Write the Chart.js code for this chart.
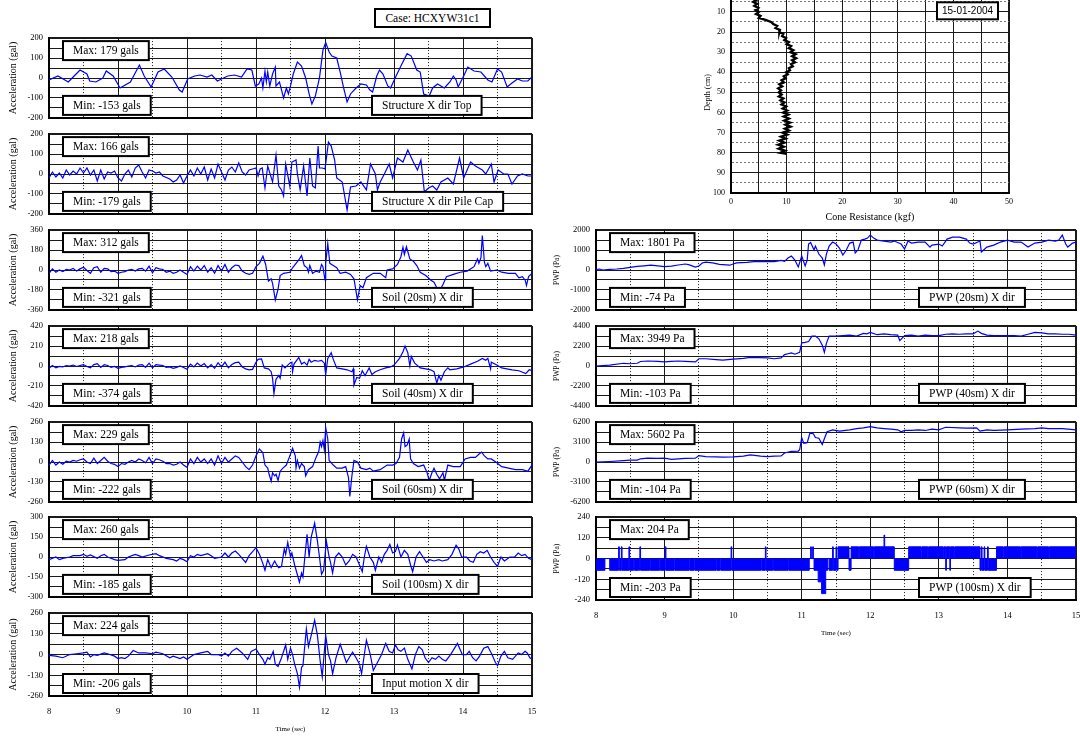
<!DOCTYPE html>
<html lang="en">
<head>
<meta charset="UTF-8">
<title>Case HCXYW31c1</title>
<script src="https://cdn.jsdelivr.net/npm/chart.js"></script>
<style>
  body { margin: 0; width: 1080px; height: 736px; overflow: hidden; background: #fff; position: relative; font-family: "Liberation Serif", serif; }
  canvas { position: absolute; }
  #case { position: absolute; left: 374px; top: 8px; width: 117px; height: 20px; box-sizing: border-box; border: 2px solid #000; text-align: center; font-size: 11.5px; line-height: 16px; background: #fff; }
</style>
</head>
<body>
<div id="case">Case: HCXYW31c1</div>
<script>
// ---- data: [time (s), value] ----
const accTop = [[8.00,-10],[8.13,10],[8.28,-20],[8.35,5],[8.45,40],[8.55,20],[8.59,-15],[8.68,-20],[8.78,0],[8.83,35],[8.93,10],[9.03,-50],[9.18,-20],[9.31,65],[9.38,10],[9.48,-45],[9.58,30],[9.67,45],[9.78,5],[9.89,-60],[9.93,-70],[10.01,-5],[10.11,10],[10.19,15],[10.29,5],[10.36,15],[10.44,-15],[10.59,10],[10.69,15],[10.79,5],[10.87,45],[10.94,40],[10.99,-40],[11.04,-30],[11.08,0],[11.10,-50],[11.13,35],[11.15,-20],[11.17,30],[11.20,-40],[11.24,20],[11.28,55],[11.29,-40],[11.34,-20],[11.40,-100],[11.44,-50],[11.47,-80],[11.50,-40],[11.54,20],[11.60,80],[11.66,60],[11.72,0],[11.77,-80],[11.81,-130],[11.86,-90],[11.92,0],[11.97,140],[12.01,178],[12.06,130],[12.10,110],[12.17,100],[12.22,30],[12.27,-50],[12.32,-120],[12.37,-80],[12.45,-50],[12.52,-30],[12.60,-35],[12.65,-60],[12.69,-70],[12.75,10],[12.79,40],[12.84,20],[12.91,-40],[12.95,-50],[13.03,10],[13.10,60],[13.19,122],[13.25,110],[13.33,40],[13.38,30],[13.43,-80],[13.51,-90],[13.56,-50],[13.63,-30],[13.73,-50],[13.81,-20],[13.86,10],[13.90,-10],[13.93,-45],[14.01,10],[14.07,55],[14.16,35],[14.26,30],[14.36,-10],[14.42,-20],[14.50,45],[14.56,30],[14.64,-45],[14.71,-25],[14.79,-5],[14.86,-15],[14.94,-15],[15.00,5]];

const accPileCap = [[8.00,-20],[8.05,10],[8.10,-15],[8.15,5],[8.20,-20],[8.25,20],[8.30,-5],[8.35,15],[8.40,0],[8.45,30],[8.50,5],[8.55,30],[8.60,-5],[8.65,20],[8.70,-35],[8.75,20],[8.80,-25],[8.85,10],[8.90,5],[8.95,15],[9.00,-20],[9.05,-35],[9.10,0],[9.15,20],[9.20,-15],[9.25,30],[9.30,45],[9.35,10],[9.40,-20],[9.45,20],[9.50,15],[9.55,5],[9.60,10],[9.65,-10],[9.75,-25],[9.80,-40],[9.85,-30],[9.90,-5],[9.95,-45],[10.00,-10],[10.05,20],[10.10,-10],[10.15,30],[10.20,0],[10.25,35],[10.30,-30],[10.35,25],[10.40,-20],[10.45,50],[10.50,10],[10.55,-30],[10.60,20],[10.65,35],[10.70,10],[10.75,55],[10.80,10],[10.85,-5],[10.90,20],[10.95,25],[11.00,30],[11.03,-10],[11.06,25],[11.09,30],[11.13,-70],[11.17,40],[11.24,-40],[11.29,95],[11.33,-60],[11.37,-80],[11.40,-110],[11.43,50],[11.49,-60],[11.52,60],[11.58,70],[11.60,0],[11.64,-80],[11.69,40],[11.74,-110],[11.78,80],[11.82,-60],[11.86,-70],[11.90,140],[11.92,30],[11.96,30],[12.00,25],[12.05,160],[12.09,140],[12.14,70],[12.17,-20],[12.25,-40],[12.32,-180],[12.37,-65],[12.45,-60],[12.52,-40],[12.60,-80],[12.66,50],[12.73,0],[12.76,-80],[12.80,-40],[12.86,0],[12.93,50],[12.98,-20],[13.05,80],[13.13,60],[13.20,120],[13.28,60],[13.34,20],[13.39,70],[13.44,-90],[13.50,-70],[13.56,-60],[13.62,-80],[13.68,-40],[13.78,-20],[13.86,-50],[13.95,80],[14.01,-20],[14.11,60],[14.18,40],[14.28,20],[14.33,0],[14.41,50],[14.45,-40],[14.51,20],[14.59,0],[14.65,0],[14.71,-50],[14.79,-10],[14.86,0],[14.94,-10],[15.00,-10]];

const accSoil20 = [[8.00,-30],[8.05,10],[8.10,-20],[8.15,0],[8.20,-15],[8.25,5],[8.30,0],[8.35,15],[8.40,-10],[8.45,10],[8.50,25],[8.55,-5],[8.60,-30],[8.65,20],[8.70,30],[8.75,-20],[8.80,15],[8.85,10],[8.90,-15],[8.95,-10],[9.00,-30],[9.05,-20],[9.10,-15],[9.15,0],[9.20,5],[9.25,-10],[9.30,10],[9.35,15],[9.40,-10],[9.45,35],[9.50,-25],[9.55,20],[9.60,10],[9.65,5],[9.70,-20],[9.75,-10],[9.80,-30],[9.85,-20],[9.90,0],[9.95,-20],[10.00,-40],[10.05,30],[10.10,-10],[10.15,35],[10.20,0],[10.25,40],[10.30,-20],[10.35,20],[10.40,-30],[10.45,40],[10.50,-10],[10.55,50],[10.60,-20],[10.65,20],[10.70,45],[10.75,40],[10.80,-10],[10.85,-30],[10.90,-40],[10.95,-30],[11.00,30],[11.05,60],[11.10,125],[11.14,50],[11.18,-100],[11.22,-80],[11.24,-120],[11.28,-270],[11.32,-170],[11.35,-50],[11.40,-30],[11.49,-20],[11.53,20],[11.58,60],[11.63,100],[11.66,130],[11.70,40],[11.74,20],[11.76,-20],[11.78,40],[11.82,-30],[11.87,-10],[11.92,-20],[11.95,50],[11.97,30],[12.00,-90],[12.01,60],[12.04,240],[12.07,60],[12.12,40],[12.17,20],[12.22,-30],[12.30,-20],[12.37,-40],[12.42,-80],[12.47,-270],[12.51,-140],[12.55,-160],[12.60,-70],[12.70,-30],[12.80,-30],[12.88,-70],[12.90,0],[12.98,10],[13.05,50],[13.10,120],[13.13,205],[13.15,140],[13.18,210],[13.23,100],[13.28,80],[13.33,40],[13.38,-20],[13.46,-50],[13.53,-90],[13.58,-110],[13.62,-160],[13.65,-200],[13.71,-130],[13.76,-60],[13.86,-40],[13.96,-20],[14.06,-10],[14.16,30],[14.21,100],[14.23,60],[14.26,110],[14.28,310],[14.31,70],[14.33,30],[14.36,60],[14.40,-10],[14.49,0],[14.56,-20],[14.66,-30],[14.76,-30],[14.81,-70],[14.86,-60],[14.90,-90],[14.92,-140],[14.95,-60],[15.00,-30]];

const accSoil40 = [[8.00,-25],[8.05,5],[8.10,-20],[8.15,-5],[8.20,-10],[8.25,5],[8.30,0],[8.35,10],[8.40,-5],[8.45,5],[8.50,15],[8.55,-5],[8.60,-20],[8.65,15],[8.70,25],[8.75,-15],[8.80,15],[8.85,5],[8.90,-15],[8.95,-5],[9.00,-25],[9.05,-15],[9.10,-10],[9.15,0],[9.20,5],[9.25,-10],[9.30,10],[9.35,15],[9.40,-15],[9.45,30],[9.50,-20],[9.55,15],[9.60,10],[9.65,5],[9.70,-15],[9.75,-10],[9.80,-25],[9.85,-15],[9.90,0],[9.95,-15],[10.00,-35],[10.05,20],[10.10,-10],[10.15,30],[10.20,0],[10.25,25],[10.30,-20],[10.35,15],[10.40,-25],[10.45,35],[10.50,-10],[10.55,40],[10.60,-20],[10.65,15],[10.70,35],[10.75,40],[10.80,-10],[10.85,-30],[10.90,-40],[10.95,-35],[11.00,40],[11.03,70],[11.08,75],[11.12,-20],[11.18,-30],[11.22,-60],[11.24,-130],[11.26,-290],[11.29,-140],[11.33,-100],[11.35,-130],[11.38,10],[11.42,-20],[11.49,30],[11.52,40],[11.53,-60],[11.55,20],[11.62,90],[11.66,20],[11.70,40],[11.74,10],[11.77,70],[11.80,40],[11.85,60],[11.90,50],[11.95,60],[11.99,30],[12.01,-90],[12.04,80],[12.09,140],[12.12,70],[12.17,-20],[12.25,-30],[12.32,-40],[12.39,-60],[12.41,-30],[12.42,-200],[12.46,-120],[12.50,-130],[12.54,-50],[12.58,-100],[12.61,-60],[12.64,-20],[12.68,-90],[12.73,-60],[12.80,-40],[12.88,-20],[12.95,-10],[13.00,10],[13.08,80],[13.13,150],[13.16,210],[13.20,140],[13.23,0],[13.25,100],[13.30,30],[13.38,-20],[13.46,-30],[13.53,-40],[13.58,-60],[13.62,-180],[13.65,-100],[13.68,-150],[13.73,-60],[13.78,-20],[13.81,-40],[13.91,-30],[14.01,-10],[14.11,20],[14.21,50],[14.28,80],[14.33,60],[14.36,80],[14.40,-30],[14.41,40],[14.49,10],[14.56,-20],[14.71,-40],[14.81,-50],[14.91,-80],[14.96,-40],[15.00,-50]];

const accSoil60 = [[8.00,-20],[8.05,10],[8.10,-20],[8.15,0],[8.20,-15],[8.25,5],[8.30,0],[8.35,10],[8.40,5],[8.45,15],[8.50,20],[8.55,0],[8.60,-10],[8.65,25],[8.70,-10],[8.75,10],[8.80,30],[8.85,5],[8.90,-10],[8.95,-15],[9.00,-30],[9.05,-10],[9.10,-15],[9.15,0],[9.20,10],[9.25,0],[9.30,20],[9.35,10],[9.40,-5],[9.45,30],[9.50,-10],[9.55,20],[9.60,15],[9.65,5],[9.70,-10],[9.75,-10],[9.80,-20],[9.85,-15],[9.90,0],[9.95,-20],[10.00,-35],[10.05,20],[10.10,-10],[10.15,30],[10.20,0],[10.25,20],[10.30,-10],[10.35,20],[10.40,-20],[10.45,40],[10.50,-10],[10.55,30],[10.60,0],[10.65,20],[10.70,40],[10.75,30],[10.80,0],[10.85,-30],[10.90,-50],[10.95,-20],[11.00,40],[11.05,85],[11.10,60],[11.13,-20],[11.17,-40],[11.19,-80],[11.22,-125],[11.24,-70],[11.27,-90],[11.29,-80],[11.32,-120],[11.35,-60],[11.39,-40],[11.44,-20],[11.49,40],[11.53,90],[11.57,40],[11.58,-40],[11.60,10],[11.63,-40],[11.66,-10],[11.70,-30],[11.72,-90],[11.76,-50],[11.82,-30],[11.87,30],[11.91,70],[11.93,130],[11.95,100],[11.97,140],[11.99,80],[12.01,225],[12.04,150],[12.06,10],[12.12,-20],[12.17,-40],[12.25,-40],[12.30,-30],[12.34,-100],[12.36,-225],[12.39,-90],[12.42,10],[12.47,0],[12.52,-40],[12.60,-50],[12.65,-40],[12.70,-60],[12.80,-50],[12.90,-20],[12.98,-20],[13.03,-10],[13.08,30],[13.11,150],[13.14,190],[13.16,100],[13.19,110],[13.22,150],[13.24,20],[13.28,-10],[13.35,-30],[13.43,-20],[13.48,-70],[13.51,-120],[13.55,-70],[13.58,-40],[13.62,-80],[13.66,-110],[13.71,-70],[13.73,-120],[13.78,-20],[13.86,-30],[13.96,-30],[14.03,20],[14.11,30],[14.18,30],[14.23,50],[14.27,65],[14.31,40],[14.36,20],[14.41,20],[14.49,-5],[14.56,-30],[14.66,-40],[14.76,-50],[14.86,-50],[14.94,-60],[15.00,-20]];

const accSoil100 = [[8.00,-20],[8.10,0],[8.15,-20],[8.20,-10],[8.30,0],[8.35,10],[8.45,10],[8.50,20],[8.55,5],[8.60,15],[8.70,-10],[8.75,10],[8.80,20],[8.85,0],[8.95,-20],[9.00,-25],[9.10,-20],[9.15,0],[9.25,20],[9.30,10],[9.35,0],[9.45,15],[9.55,25],[9.60,10],[9.70,-10],[9.80,-20],[9.85,-30],[9.90,-10],[9.95,-20],[10.00,-35],[10.05,10],[10.10,0],[10.15,20],[10.20,10],[10.30,25],[10.35,10],[10.40,-10],[10.50,0],[10.55,30],[10.60,0],[10.65,30],[10.70,45],[10.75,20],[10.85,-40],[10.90,10],[11.00,70],[11.05,20],[11.10,-50],[11.13,-100],[11.17,-20],[11.22,-80],[11.27,-30],[11.30,-60],[11.33,-80],[11.37,-70],[11.41,60],[11.43,20],[11.46,110],[11.50,0],[11.52,30],[11.56,-60],[11.63,-190],[11.66,-120],[11.68,-150],[11.74,170],[11.77,0],[11.80,150],[11.85,255],[11.89,120],[11.92,0],[11.95,-130],[11.98,-100],[12.02,120],[12.06,0],[12.08,-40],[12.11,-120],[12.15,0],[12.20,30],[12.25,0],[12.30,-60],[12.35,-30],[12.40,20],[12.45,0],[12.50,-60],[12.54,-110],[12.57,0],[12.60,80],[12.65,0],[12.70,-40],[12.73,-100],[12.78,0],[12.82,-40],[12.86,20],[12.90,50],[12.94,95],[12.98,30],[13.02,40],[13.05,90],[13.10,0],[13.15,50],[13.20,20],[13.24,-60],[13.27,-110],[13.32,0],[13.37,40],[13.42,0],[13.47,-40],[13.52,-20],[13.58,-30],[13.65,-20],[13.70,-30],[13.78,-20],[13.84,20],[13.90,88],[13.94,60],[13.98,0],[14.05,0],[14.10,-30],[14.15,-40],[14.20,20],[14.25,40],[14.30,30],[14.35,50],[14.40,0],[14.45,-40],[14.50,-70],[14.55,0],[14.60,-30],[14.68,0],[14.75,0],[14.80,30],[14.85,10],[14.90,20],[14.95,-10],[15.00,-20]];

const accInput = [[8.00,-5],[8.10,-10],[8.20,-20],[8.30,0],[8.40,5],[8.50,10],[8.55,15],[8.60,-15],[8.65,0],[8.70,-5],[8.80,10],[8.85,5],[8.95,-10],[9.00,-25],[9.05,-20],[9.10,-25],[9.15,-10],[9.22,25],[9.30,10],[9.40,10],[9.50,5],[9.55,15],[9.65,5],[9.75,-20],[9.80,-10],[9.90,-25],[9.95,-15],[10.00,-30],[10.10,0],[10.20,10],[10.30,20],[10.35,0],[10.45,0],[10.50,-10],[10.55,10],[10.60,-10],[10.65,20],[10.72,40],[10.80,10],[10.88,-30],[10.93,20],[11.00,35],[11.05,0],[11.10,-30],[11.13,-60],[11.17,-20],[11.20,-30],[11.25,20],[11.28,-60],[11.32,-75],[11.37,-20],[11.43,60],[11.46,-30],[11.50,40],[11.53,0],[11.56,-60],[11.60,-120],[11.63,-205],[11.66,-80],[11.68,-70],[11.73,160],[11.76,50],[11.80,120],[11.85,215],[11.89,120],[11.93,-40],[11.96,-140],[12.01,120],[12.05,0],[12.08,-40],[12.11,-120],[12.16,-20],[12.22,65],[12.27,0],[12.31,-50],[12.35,-20],[12.40,15],[12.45,-20],[12.50,-60],[12.53,-120],[12.57,0],[12.60,90],[12.65,10],[12.67,-30],[12.70,-100],[12.76,-50],[12.82,0],[12.88,70],[12.93,20],[12.98,10],[13.02,60],[13.06,30],[13.10,20],[13.15,40],[13.20,-30],[13.26,-90],[13.31,0],[13.36,50],[13.41,30],[13.45,-20],[13.50,-50],[13.55,-20],[13.60,-30],[13.65,-10],[13.70,-30],[13.75,-40],[13.82,0],[13.92,70],[13.95,40],[13.99,0],[14.05,0],[14.09,20],[14.14,-20],[14.19,-40],[14.24,-10],[14.30,40],[14.36,50],[14.42,0],[14.47,-50],[14.50,-70],[14.55,-10],[14.60,20],[14.65,-20],[14.72,-30],[14.80,10],[14.85,0],[14.90,20],[14.93,10],[14.97,-20],[15.00,-30]];

const pwp20 = [[8.00,20],[8.05,50],[8.10,0],[8.20,30],[8.30,50],[8.40,80],[8.50,130],[8.60,180],[8.70,210],[8.80,240],[8.90,210],[9.00,170],[9.10,190],[9.20,250],[9.30,300],[9.35,270],[9.45,150],[9.50,200],[9.55,350],[9.60,390],[9.70,360],[9.80,280],[9.90,260],[9.95,240],[10.00,300],[10.05,360],[10.20,380],[10.30,420],[10.40,430],[10.50,420],[10.60,420],[10.70,480],[10.75,430],[10.80,600],[10.85,700],[10.90,500],[10.95,150],[11.00,700],[11.05,200],[11.08,500],[11.10,1300],[11.13,1380],[11.18,1000],[11.20,1200],[11.25,800],[11.30,600],[11.33,250],[11.36,800],[11.40,1200],[11.45,1400],[11.50,1300],[11.55,1100],[11.60,750],[11.65,1000],[11.70,1350],[11.75,1400],[11.78,850],[11.82,1000],[11.87,1500],[11.92,1550],[11.96,1600],[12.00,1750],[12.05,1600],[12.10,1500],[12.20,1450],[12.30,1400],[12.35,1450],[12.45,1300],[12.50,1050],[12.55,1450],[12.60,1350],[12.70,1400],[12.80,1400],[12.87,1150],[12.90,1250],[13.00,1300],[13.05,1200],[13.12,1550],[13.20,1650],[13.30,1650],[13.40,1550],[13.45,1350],[13.50,1300],[13.60,1450],[13.62,900],[13.70,1150],[13.80,1250],[13.90,1400],[14.00,1500],[14.10,1400],[14.20,1400],[14.30,1150],[14.40,1350],[14.50,1400],[14.60,1500],[14.70,1450],[14.75,1500],[14.80,1750],[14.85,1300],[14.88,1150],[14.95,1350],[15.00,1400]];

const pwp40 = [[8.00,0],[8.20,100],[8.40,300],[8.50,250],[8.60,300],[8.65,500],[8.75,550],[8.90,500],[9.00,450],[9.10,500],[9.20,550],[9.30,500],[9.45,450],[9.50,800],[9.60,800],[9.75,700],[9.85,650],[10.00,750],[10.15,850],[10.25,950],[10.50,900],[10.60,800],[10.70,900],[10.75,1250],[10.80,1350],[10.85,1450],[10.90,1300],[10.97,1500],[11.00,2550],[11.05,2600],[11.10,2700],[11.15,3300],[11.20,3300],[11.25,3000],[11.30,2300],[11.33,1500],[11.36,2500],[11.40,3300],[11.50,3300],[11.60,3350],[11.70,3400],[11.80,3300],[11.90,3600],[11.95,3550],[12.00,3700],[12.10,3450],[12.20,3550],[12.30,3450],[12.40,3400],[12.43,2800],[12.50,3350],[12.60,3400],[12.70,3300],[12.80,3400],[12.90,3350],[13.00,3350],[13.10,3500],[13.20,3550],[13.30,3500],[13.40,3550],[13.50,3550],[13.57,3850],[13.62,3600],[13.70,3400],[13.80,3350],[13.90,3350],[14.00,3350],[14.10,3350],[14.20,3300],[14.30,3500],[14.40,3700],[14.50,3650],[14.60,3550],[14.70,3550],[14.80,3500],[14.90,3500],[15.00,3400]];

const pwp60 = [[8.00,0],[8.20,80],[8.40,200],[8.50,280],[8.60,300],[8.65,500],[8.75,600],[8.90,550],[9.00,600],[9.10,400],[9.20,500],[9.30,550],[9.45,600],[9.50,1000],[9.60,850],[9.75,800],[9.85,750],[10.00,800],[10.15,900],[10.25,1100],[10.40,900],[10.50,850],[10.60,900],[10.70,950],[10.75,1400],[10.85,1650],[10.95,1700],[10.97,1900],[11.00,3800],[11.03,2900],[11.08,3000],[11.12,4500],[11.17,4400],[11.20,3800],[11.25,3700],[11.30,2700],[11.33,3600],[11.37,4700],[11.45,5000],[11.55,4800],[11.70,5000],[11.80,5200],[11.90,5300],[12.00,5500],[12.10,5300],[12.20,5200],[12.30,5100],[12.40,5000],[12.45,4700],[12.50,4900],[12.60,4900],[12.70,5000],[12.80,4900],[12.90,5100],[13.00,5000],[13.05,5200],[13.10,5400],[13.30,5300],[13.40,5250],[13.55,5300],[13.60,4800],[13.70,5000],[13.80,4900],[14.00,5000],[14.20,5100],[14.40,5200],[14.50,5300],[14.60,5200],[14.80,5200],[15.00,5000]];

// 100sm gauge toggles between quantised levels; each pair = [start time, level held]
const pwp100 = [[8.00,-68],[8.13,0],[8.20,-68],[8.33,68],[8.34,-68],[8.37,68],[8.38,-68],[8.48,68],[8.49,-68],[8.55,0],[8.56,-68],[8.62,0],[8.63,-68],[8.64,68],[8.65,-68],[8.78,0],[8.79,-68],[8.93,0],[8.94,-68],[9.01,68],[9.02,-68],[9.14,0],[9.15,-68],[9.36,0],[9.37,-68],[9.43,0],[9.44,-68],[9.75,0],[9.76,-68],[9.81,0],[9.82,-68],[9.97,68],[9.98,-68],[10.41,0],[10.42,-68],[10.47,68],[10.48,-68],[10.58,0],[10.59,-68],[10.80,0],[10.81,-68],[11.11,0],[11.13,68],[11.14,0],[11.16,68],[11.17,0],[11.18,-68],[11.24,-135],[11.29,-203],[11.35,-68],[11.38,0],[11.40,-68],[11.45,68],[11.46,-68],[11.50,68],[11.51,-68],[11.53,68],[11.69,-68],[11.72,68],[11.83,0],[11.84,68],[12.05,0],[12.06,68],[12.20,136],[12.21,68],[12.35,-68],[12.56,68],[12.74,0],[12.75,68],[12.84,0],[12.85,68],[13.06,0],[13.07,68],[13.10,-68],[13.11,68],[13.16,-68],[13.17,68],[13.22,0],[13.23,68],[13.60,-68],[13.62,68],[13.63,-68],[13.66,68],[13.67,-68],[13.71,68],[13.72,-68],[13.84,68],[13.94,0],[13.95,68],[14.19,0],[14.20,68],[14.43,0],[14.44,68],[14.60,0],[14.61,68],[15.00,68]];

// cone profile: [depth (cm), resistance (kgf)]
const coneProfile = [[1,3.6],[2,4.4],[3,3.9],[4,4.6],[5,4.0],[6,4.7],[7,4.2],[8,4.9],[9,4.4],[10,5.0],[11,4.5],[12,5.3],[13,5.0],[14,6.2],[15,7.2],[16,7.6],[17,8.3],[18,8.0],[19,8.8],[20,8.7],[21,9.4],[22,9.2],[23,9.9],[24,9.6],[25,10.4],[26,10.0],[27,10.8],[28,10.4],[29,11.2],[30,10.7],[31,11.6],[32,11.0],[33,11.7],[34,11.0],[35,11.5],[36,10.8],[37,11.1],[38,10.4],[39,10.6],[40,9.9],[41,10.2],[42,9.5],[43,9.8],[44,9.1],[45,9.5],[46,8.7],[47,9.2],[48,8.5],[49,9.0],[50,8.6],[51,9.1],[52,8.6],[53,9.4],[54,8.9],[55,9.6],[56,9.1],[57,9.9],[58,9.3],[59,10.1],[60,9.4],[61,10.3],[62,9.5],[63,10.4],[64,9.6],[65,10.6],[66,9.8],[67,10.7],[68,9.7],[69,10.4],[70,9.3],[71,10.1],[72,9.0],[73,9.8],[74,8.7],[75,9.6],[76,8.5],[77,9.5],[78,8.6],[79,9.7],[80,8.9],[80.5,10.0]];

const accSeries = [accTop, accPileCap, accSoil20, accSoil40, accSoil60, accSoil100, accInput];
const accLimits = [200, 200, 360, 420, 260, 300, 260];
const accMaxLabels = ['Max: 179 gals', 'Max: 166 gals', 'Max: 312 gals', 'Max: 218 gals', 'Max: 229 gals', 'Max: 260 gals', 'Max: 224 gals'];
const accMinLabels = ['Min: -153 gals', 'Min: -179 gals', 'Min: -321 gals', 'Min: -374 gals', 'Min: -222 gals', 'Min: -185 gals', 'Min: -206 gals'];
const accNames = ['Structure X dir Top', 'Structure X dir Pile Cap', 'Soil (20sm) X dir', 'Soil (40sm) X dir', 'Soil (60sm) X dir', 'Soil (100sm) X dir', 'Input motion X dir'];

const pwpSeries = [pwp20, pwp40, pwp60, pwp100];
const pwpLimits = [2000, 4400, 6200, 240];
const pwpMaxLabels = ['Max: 1801 Pa', 'Max: 3949 Pa', 'Max: 5602 Pa', 'Max: 204 Pa'];
const pwpMinLabels = ['Min: -74 Pa', 'Min: -103 Pa', 'Min: -104 Pa', 'Min: -203 Pa'];
const pwpNames = ['PWP (20sm) X dir', 'PWP (40sm) X dir', 'PWP (60sm) X dir', 'PWP (100sm) X dir'];

// ---- layout ----
const BLUE = '#0000ff';
const GRID = '#1a1a1a';
const PLOT_H = 86;
const LEFT_TOPS = [35, 131, 227, 323, 419, 514, 610];
const RIGHT_TOPS = [227, 323, 419, 514];

Chart.defaults.font.family = '"Liberation Serif", serif';
Chart.defaults.color = '#000';

function addCanvas(left, top, w, h) {
    const c = document.createElement('canvas');
    c.width = w;
    c.height = h;
    c.style.left = left + 'px';
    c.style.top = top + 'px';
    c.style.width = w + 'px';
    c.style.height = h + 'px';
    document.body.appendChild(c);
    return c;
}

// white label boxes drawn over the traces
function boxLayer(items) {
    return {
        id: 'boxes',
        afterDatasetsDraw(chart) {
            const a = chart.chartArea, ctx = chart.ctx;
            ctx.save();
            items.forEach(b => {
                ctx.font = b.font || '11.5px "Liberation Serif"';
                const w = b.w || ctx.measureText(b.text).width + 20;
                const h = b.h || 19;
                const x = b.right != null ? a.right - b.right - w : a.left + b.left;
                const y = b.top != null ? a.top + b.top : a.bottom - b.bottom - h;
                ctx.fillStyle = '#fff';
                ctx.fillRect(x, y, w, h);
                ctx.lineWidth = 2;
                ctx.strokeStyle = '#000';
                ctx.strokeRect(x, y, w, h);
                ctx.fillStyle = '#000';
                ctx.textAlign = 'center';
                ctx.textBaseline = 'middle';
                ctx.fillText(b.text, x + w / 2, y + h / 2 + 0.5);
            });
            ctx.restore();
        }
    };
}

function timePanel(p) {
    const padL = 49, padT = 8;
    // the x tick labels add (padding + half label) on the right, so leave room for it
    const padR = p.xAxis ? 17 : 6;
    const axisH = p.xAxis ? 40 : 0;
    const padB = p.xAxis ? 0 : 8;
    const c = addCanvas(p.left - padL, p.top - padT, padL + p.width + padR, padT + PLOT_H + axisH + padB);

    const ds = {
        data: p.data.map(d => ({ x: d[0], y: d[1] })),
        borderColor: BLUE,
        borderWidth: 1.2,
        pointRadius: 0,
        tension: 0
    };
    if (p.stepped) {
        ds.stepped = true;
        ds.fill = 'origin';
        ds.backgroundColor = BLUE;
        ds.borderWidth = 1;
    }

    new Chart(c, {
        type: 'line',
        data: { datasets: [ds] },
        options: {
            responsive: false,
            animation: false,
            devicePixelRatio: 1,
            events: [],
            layout: { padding: { left: 0, top: padT, right: padR, bottom: padB } },
            plugins: { legend: { display: false }, tooltip: { enabled: false } },
            scales: {
                x: {
                    type: 'linear', min: 8, max: 15,
                    afterFit: s => { s.height = axisH; },
                    ticks: {
                        display: !!p.xAxis, stepSize: 0.5, autoSkip: false, maxRotation: 0, padding: 11,
                        font: { size: 8.5 },
                        callback: v => Number.isInteger(v) ? v : ''
                    },
                    grid: { color: GRID, drawTicks: false, lineWidth: ctx => (ctx.tick && ctx.tick.value === 15) ? 2 : 1 },
                    border: { color: '#000', width: 2, dash: ctx => (ctx.tick && !Number.isInteger(ctx.tick.value)) ? [1, 2] : [] },
                    title: { display: !!p.xAxis, text: 'Time (sec)', font: { size: 7 }, padding: { top: 0, bottom: 3 } }
                },
                y: {
                    min: -p.lim, max: p.lim,
                    afterFit: s => { s.width = padL; },
                    ticks: {
                        stepSize: p.lim / 4, autoSkip: false, padding: 6,
                        font: { size: 8.5 },
                        callback: v => (v % (p.lim / 2) === 0) ? v : ''
                    },
                    grid: { color: GRID, drawTicks: false, lineWidth: ctx => (ctx.tick && ctx.tick.value === p.lim) ? 2 : 1 },
                    border: { color: '#000', width: 2 },
                    title: { display: true, text: p.yTitle, font: { size: p.yTitleSize }, padding: { top: p.yTitlePad, bottom: 0 } }
                }
            }
        },
        plugins: [boxLayer([
            { text: p.maxText, left: 14, top: 3 },
            { text: p.minText, left: 14, bottom: 3 },
            { text: p.name, left: 323, bottom: 3 }
        ])]
    });
}

accSeries.forEach((data, i) => timePanel({
    data, left: 49, width: 483, top: LEFT_TOPS[i], lim: accLimits[i],
    maxText: accMaxLabels[i], minText: accMinLabels[i], name: accNames[i],
    yTitle: 'Acceleration (gal)', yTitleSize: 10, yTitlePad: 7,
    xAxis: i === accSeries.length - 1
}));

pwpSeries.forEach((data, i) => timePanel({
    data, left: 596, width: 480, top: RIGHT_TOPS[i], lim: pwpLimits[i],
    maxText: pwpMaxLabels[i], minText: pwpMinLabels[i], name: pwpNames[i],
    yTitle: 'PWP (Pa)', yTitleSize: 7.5, yTitlePad: 5.5,
    xAxis: i === pwpSeries.length - 1,
    stepped: i === pwpSeries.length - 1
}));

// cone penetration profile (top right, partly above the page edge)
(function conePanel() {
    const padL = 40, padT = 8, padR = 8, axisH = 36;
    const area = { left: 731, top: -11, width: 278, height: 204 };
    const c = addCanvas(area.left - padL, area.top - padT, padL + area.width + padR, padT + area.height + axisH);
    new Chart(c, {
        type: 'scatter',
        data: {
            datasets: [{
                data: coneProfile.map(d => ({ x: d[1], y: d[0] })),
                showLine: true, borderColor: '#000', borderWidth: 2.4, pointRadius: 0
            }]
        },
        options: {
            responsive: false,
            animation: false,
            devicePixelRatio: 1,
            events: [],
            layout: { padding: { left: 0, top: padT, right: padR, bottom: 0 } },
            plugins: { legend: { display: false }, tooltip: { enabled: false } },
            scales: {
                x: {
                    min: 0, max: 50,
                    afterFit: s => { s.height = axisH; },
                    ticks: { stepSize: 5, autoSkip: false, maxRotation: 0, padding: 4, font: { size: 8 }, callback: v => v % 10 === 0 ? v : '' },
                    grid: { color: GRID, drawTicks: false, lineWidth: ctx => (ctx.tick && ctx.tick.value === 50) ? 2 : 1 },
                    border: { color: '#000', width: 2 },
                    title: { display: true, text: 'Cone Resistance (kgf)', font: { size: 10 }, padding: { top: 0, bottom: 6 } }
                },
                y: {
                    min: 0, max: 100, reverse: true,
                    afterFit: s => { s.width = padL; },
                    ticks: { stepSize: 5, autoSkip: false, padding: 6, font: { size: 8 }, callback: v => v % 10 === 0 ? v : '' },
                    grid: {
                        drawTicks: false,
                        color: ctx => (ctx.tick && ctx.tick.value % 10 !== 0) ? '#777' : GRID,
                        lineWidth: ctx => (ctx.tick && ctx.tick.value === 0) ? 2 : 1
                    },
                    border: { color: '#000', width: 2, dash: ctx => (ctx.tick && ctx.tick.value % 10 !== 0) ? [2, 2] : [] },
                    title: { display: true, text: 'Depth (cm)', font: { size: 8 }, padding: { top: 12, bottom: 0 } }
                }
            }
        },
        plugins: [boxLayer([
            { text: '15-01-2004', right: 11, top: 10.5, w: 61, h: 17, font: '10px "Liberation Sans"' }
        ])]
    });
})();
</script>
</body>
</html>
